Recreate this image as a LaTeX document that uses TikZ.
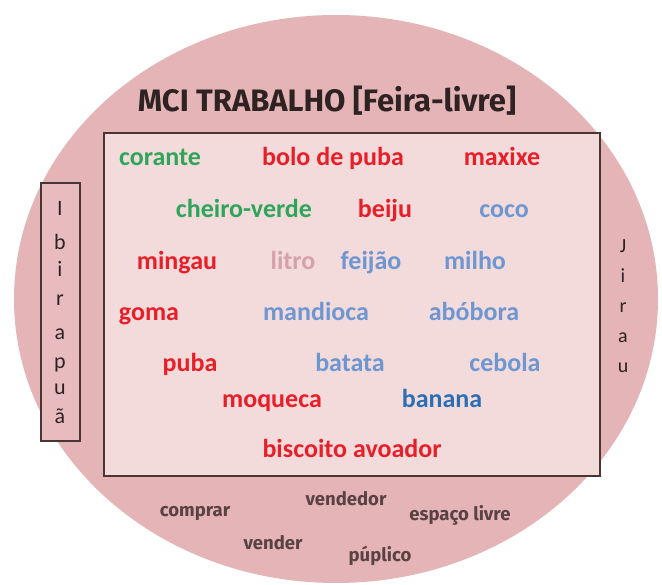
\documentclass[tikz,border=0pt]{standalone}
\usepackage{fontspec}
\setmainfont{Carlito}
\newfontfamily\titlefont{Fira Sans}
\definecolor{ellfill}{HTML}{E4B4B6}
\definecolor{boxfill}{HTML}{F3DBDC}
\definecolor{sidefill}{HTML}{E8BCBE}
\definecolor{frame}{HTML}{4A3535}
\definecolor{wred}{HTML}{E81E28}
\definecolor{wgreen}{HTML}{2EA55A}
\definecolor{wblue}{HTML}{6E96D0}
\definecolor{wdblue}{HTML}{2B6EB4}
\definecolor{wlight}{HTML}{D4A2A7}
\definecolor{darktxt}{HTML}{2E2222}
\definecolor{btxt}{HTML}{5A4242}
\tikzset{
  word/.style={font=\fontsize{26}{28}\selectfont\bfseries, anchor=base, inner sep=0pt},
  red/.style={word, text=wred},
  grn/.style={word, text=wgreen},
  blu/.style={word, text=wblue},
  dblu/.style={word, text=wdblue},
  lite/.style={word, text=wlight},
  sideletter/.style={font=\fontsize{22}{24}\selectfont, text=darktxt, anchor=base, inner sep=0pt},
  rightletter/.style={font=\fontsize{20}{22}\selectfont, text=darktxt, anchor=base, inner sep=0pt},
  bword/.style={font=\titlefont\fontsize{18.5}{20}\selectfont\bfseries, text=btxt, anchor=base, inner sep=0pt},
}
\begin{document}
\begin{tikzpicture}[x=1pt,y=-1pt]
\useasboundingbox (0,0) rectangle (662,585);
\fill[white] (0,0) rectangle (662,585);
% outer ellipse
\fill[ellfill] (336,299) ellipse [x radius=322, y radius=284];
% title
\node[font=\titlefont\fontsize{31}{33}\selectfont\bfseries, text=darktxt, inner sep=0pt, anchor=base] (title) at (327,112) {MCI TRABALHO [Feira-livre]};
% inner box
\draw[frame, line width=2pt, fill=boxfill] (104,133) rectangle (600,476);
% left box
\draw[frame, line width=2pt, fill=sidefill] (41,183) rectangle (80,441);
\node[sideletter] (l1) at (60,216) {I};
\node[sideletter] (l2) at (60,250) {b};
\node[sideletter] (l3) at (60,277) {i};
\node[sideletter] (l4) at (60,306) {r};
\node[sideletter] (l5) at (60,340) {a};
\node[sideletter] (l6) at (60,369) {p};
\node[sideletter] (l7) at (60,395) {u};
\node[sideletter] (l8) at (60,424) {ã};
% right letters
\node[rightletter] (r1) at (623,253) {J};
\node[rightletter] (r2) at (623,283) {i};
\node[rightletter] (r3) at (623,313) {r};
\node[rightletter] (r4) at (623,343) {a};
\node[rightletter] (r5) at (623,373) {u};
% words (baselines)
\node[grn] (corante) at (160,166) {corante};
\node[red] (bolo) at (333,166) {bolo de puba};
\node[red] (maxixe) at (502,166) {maxixe};
\node[grn] (cheiro) at (244,218) {cheiro-verde};
\node[red] (beiju) at (385,218) {beiju};
\node[blu] (coco) at (504,218) {coco};
\node[red] (mingau) at (177,270) {mingau};
\node[lite] (litro) at (293,270) {litro};
\node[blu] (feijao) at (371,270) {feijão};
\node[blu] (milho) at (475,270) {milho};
\node[red] (goma) at (149,321) {goma};
\node[blu] (mandioca) at (316,321) {mandioca};
\node[blu] (abobora) at (474,321) {abóbora};
\node[red] (puba) at (190,372) {puba};
\node[blu] (batata) at (350,372) {batata};
\node[blu] (cebola) at (505,372) {cebola};
\node[red] (moqueca) at (272,408) {moqueca};
\node[dblu] (banana) at (442,408) {banana};
\node[red] (biscoito) at (352,458) {biscoito avoador};
% bottom words
\node[bword] (comprar) at (195,517) {comprar};
\node[bword] (vendedor) at (346,506) {vendedor};
\node[bword] (espaco) at (460,521) {espaço livre};
\node[bword] (vender) at (273,549) {vender};
\node[bword] (publico) at (380,561) {púplico};
\end{tikzpicture}
\end{document}
